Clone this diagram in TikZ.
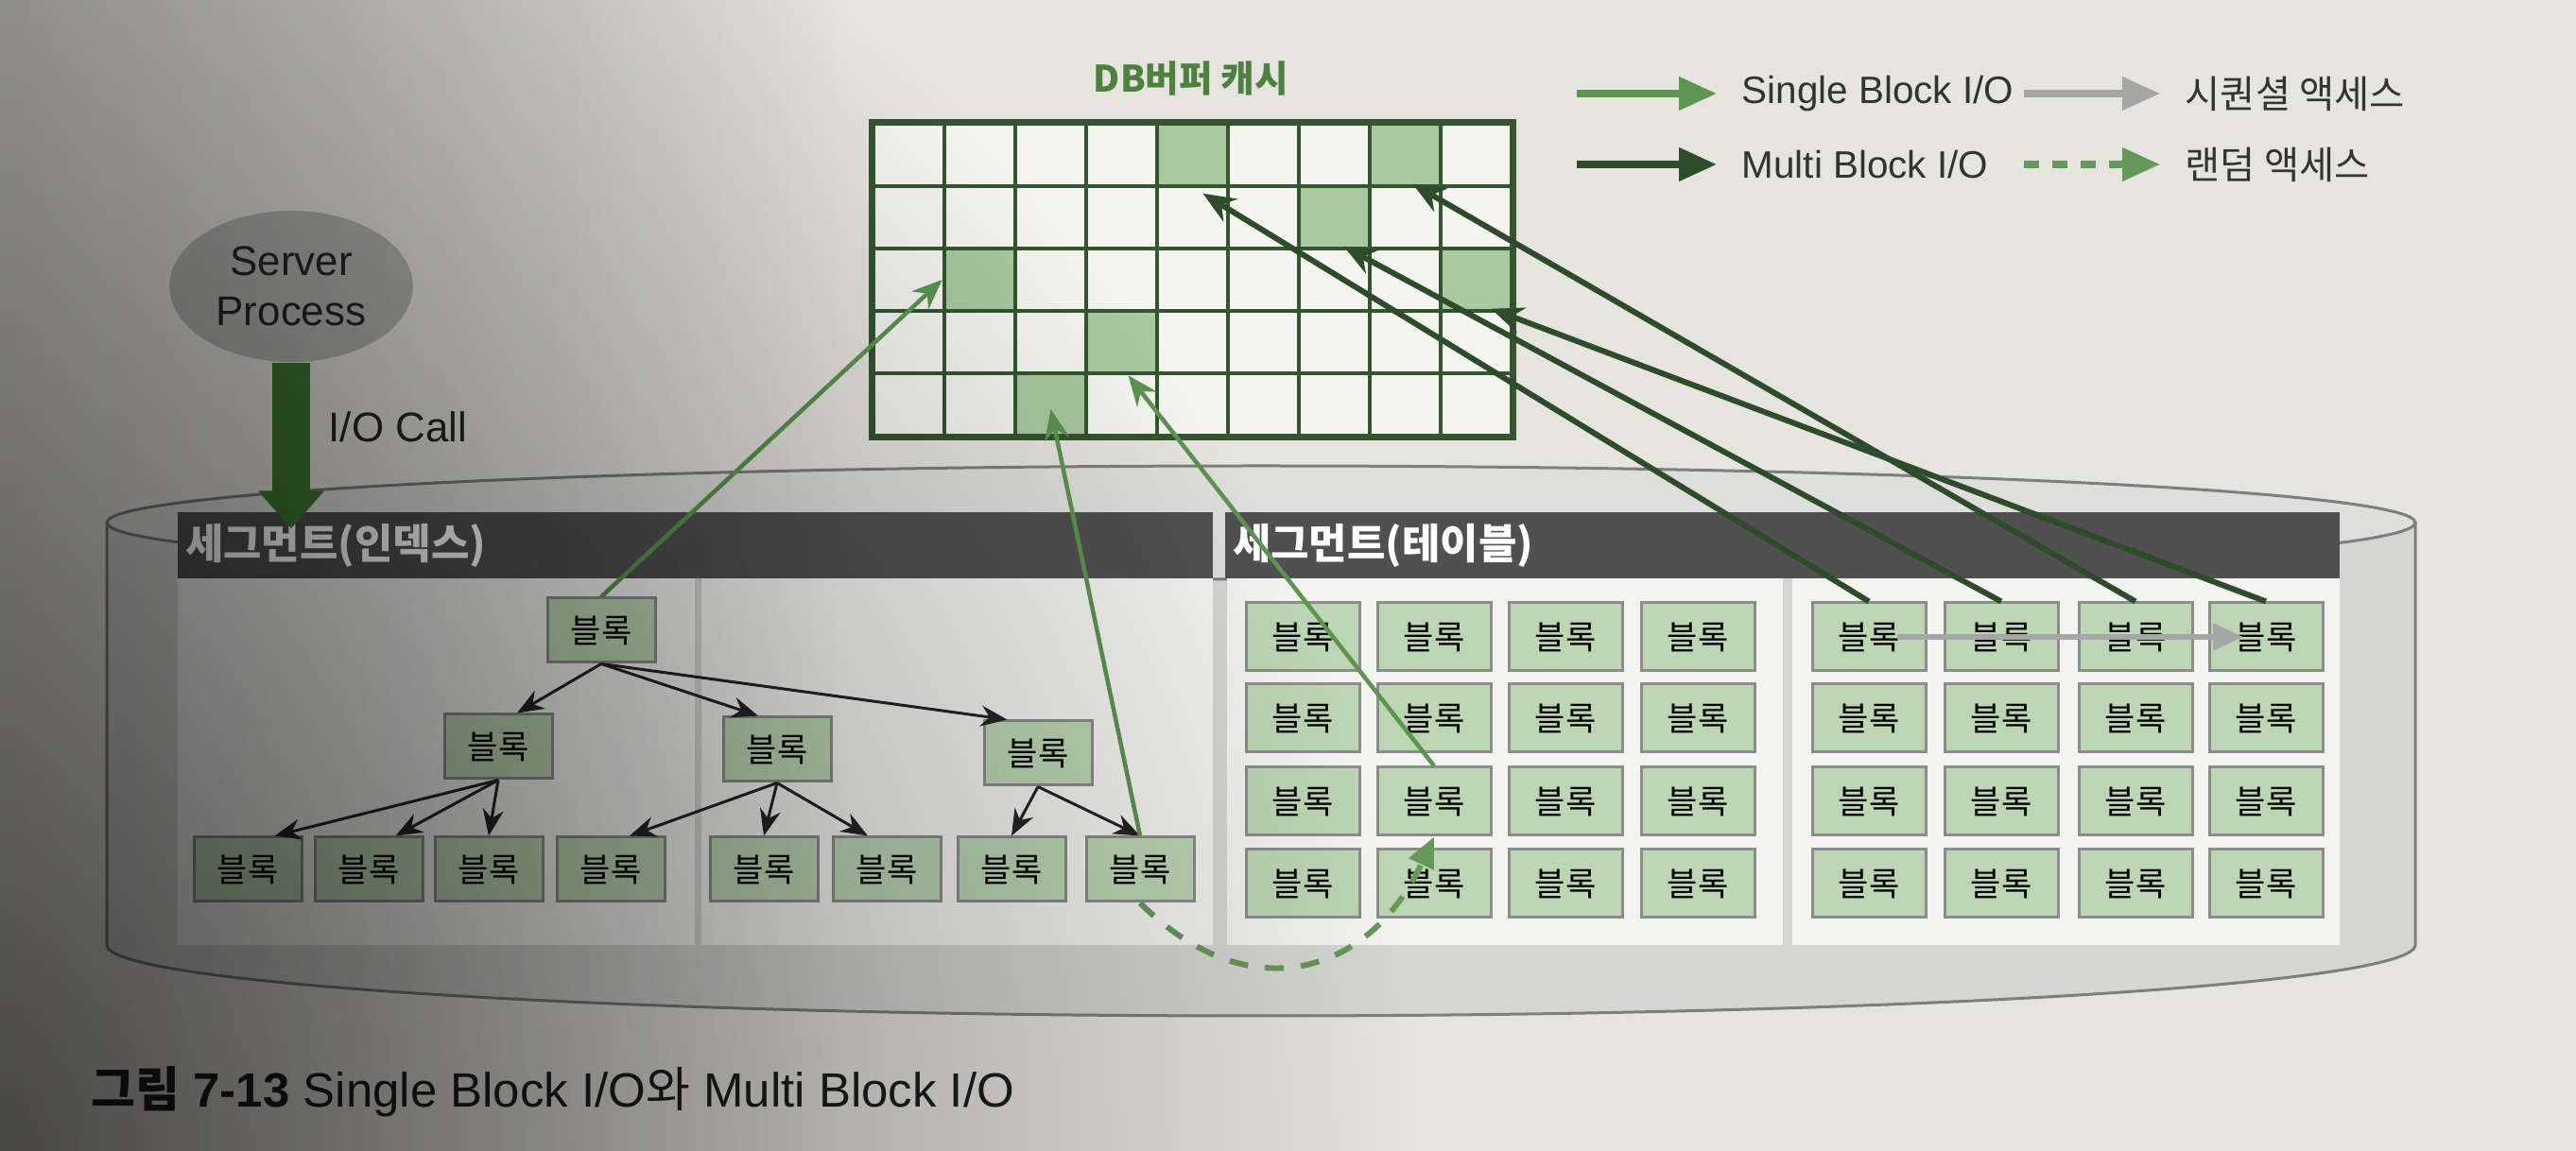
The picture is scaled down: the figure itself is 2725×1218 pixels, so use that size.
\documentclass[tikz,border=0pt]{standalone}
\usepackage{fontspec}
\setmainfont{Liberation Sans}
\newfontfamily\kr{Noto Sans CJK KR}
\usetikzlibrary{arrows.meta,shapes.geometric}
\definecolor{pagegray}{HTML}{E6E4DF}
\definecolor{cylbody}{HTML}{D5D5D3}
\definecolor{cyltop}{HTML}{DEDEDC}
\definecolor{cylline}{HTML}{7E7E7E}
\definecolor{panelwhite}{HTML}{F3F3F1}
\definecolor{bargray}{HTML}{505050}
\definecolor{blkfill}{HTML}{BCD6B3}
\definecolor{blkedge}{HTML}{8C8C8C}
\definecolor{gridline}{HTML}{34552F}
\definecolor{bufgreen}{HTML}{A9C9A0}
\definecolor{cellwhite}{HTML}{F4F4F1}
\definecolor{singlegreen}{HTML}{5C9450}
\definecolor{multigreen}{HTML}{2E4B2A}
\definecolor{seqgray}{HTML}{A6A6A6}
\definecolor{randgreen}{HTML}{66985A}
\definecolor{titlegreen}{HTML}{4E8040}
\definecolor{legtextc}{HTML}{333333}
\definecolor{servergray}{HTML}{B4B4B2}
\definecolor{callgreen}{HTML}{3F7A33}
\definecolor{captionc}{HTML}{1E1E1E}
\begin{document}
\begin{tikzpicture}
[
    x=0.1mm, y=-0.1mm,
    blk/.style={draw=blkedge, fill=blkfill, line width=0.3mm, minimum width=11.4mm, minimum height=6.8mm, inner sep=0pt, font=\kr\fontsize{10}{12}\selectfont},
    tblk/.style={blk, minimum width=12mm, minimum height=7.2mm},
    cell/.style={draw=gridline, fill=cellwhite, line width=0.45mm, minimum width=7.5mm, minimum height=6.6mm, inner sep=0pt},
    panel/.style={fill=panelwhite, minimum height=38.8mm, inner sep=0pt},
    segbar/.style={fill=bargray, text=white, font=\kr\bfseries\fontsize{12.5}{14}\selectfont, minimum height=7mm, inner xsep=0.8mm, align=left},
    treearrow/.style={draw=black!85, line width=0.3mm, -{Stealth[length=2.8mm, width=2.2mm]}},
    single/.style={draw=singlegreen, line width=0.45mm, -{Stealth[length=3.2mm, width=2.6mm]}},
    multi/.style={draw=multigreen, line width=0.6mm, -{Stealth[length=3.4mm, width=2.8mm]}},
    seq/.style={draw=seqgray, line width=0.55mm, -{Triangle[length=3.2mm, width=2.8mm]}},
    random/.style={draw=randgreen, line width=0.6mm, dash pattern=on 2mm off 1.8mm, -{Triangle[length=3.2mm, width=2.8mm]}},
    legarrow/.style={line width=0.75mm, -{Triangle[length=4mm, width=3.4mm]}},
    legtext/.style={anchor=west, text=legtextc, font=\fontsize{11.5}{13}\selectfont, inner sep=0pt},
    legkr/.style={legtext, font=\kr\fontsize{11.5}{13}\selectfont},
]
\useasboundingbox (0,0) rectangle (2725,1218);
\fill[pagegray] (0,0) rectangle (2725,1218);

\fill[cylbody] (113,553) -- (113,1000) arc[start angle=180, end angle=360, x radius=122.1mm, y radius=7.5mm] -- (2555,553) -- cycle;
\filldraw[fill=cyltop, draw=cylline, line width=0.3mm] (1334,553) ellipse[x radius=122.1mm, y radius=6mm];
\draw[cylline, line width=0.3mm] (113,553) -- (113,1000) arc[start angle=180, end angle=360, x radius=122.1mm, y radius=7.5mm] -- (2555,553);

\node[panel, minimum width=54.7mm] (ip1) at (461.5,806) {};
\node[panel, minimum width=54.1mm] (ip2) at (1012.5,806) {};
\node[panel, minimum width=58.8mm] (tp1) at (1592,806) {};
\node[panel, minimum width=57.9mm] (tp2) at (2185.5,806) {};
\node[segbar, text width=107.9mm] (idxbar) at (735.5,577) {세그먼트(인덱스)};
\node[segbar, text width=116.3mm] (tblbar) at (1885.5,577) {세그먼트(테이블)};

\node[blk] (root) at (636,667) {블록};
\node[blk] (mid1) at (527,790) {블록};
\node[blk] (mid2) at (822,793) {블록};
\node[blk] (mid3) at (1098,797) {블록};
\foreach \x [count=\i] in {262,390,517,646,808,938,1070,1206}
    \node[blk] (leaf\i) at (\x,920) {블록};
\foreach \x [count=\i] in {1378,1517,1656,1796,1977,2117,2259,2397}
    \foreach \y [count=\j] in {674,760,848,935}
        \node[tblk] (t-\i-\j) at (\x,\y) {블록};

\draw[treearrow] (root.south) -- ([xshift=2mm]mid1.north);
\draw[treearrow] (root.south) -- ([xshift=-2mm]mid2.north);
\draw[treearrow] (root.south) -- ([xshift=2.6mm]mid3.north west);
\draw[treearrow] (mid1.south) -- ([xshift=-3mm]leaf1.north east);
\draw[treearrow] (mid1.south) -- ([xshift=-3mm]leaf2.north east);
\draw[treearrow] (mid1.south) -- (leaf3.north);
\draw[treearrow] (mid2.south) -- ([xshift=2mm]leaf4.north);
\draw[treearrow] (mid2.south) -- (leaf5.north);
\draw[treearrow] (mid2.south) -- ([xshift=-2mm]leaf6.north);
\draw[treearrow] (mid3.south) -- (leaf7.north);
\draw[treearrow] (mid3.south) -- (leaf8.north);
\draw[seq] ([xshift=3mm]t-5-1.center) -- ([xshift=-2.4mm]t-8-1.center);

\foreach \c in {0,...,8}
    \foreach \r in {0,...,4}
        \node[cell] (c-\c-\r) at ({961.5+75*\c},{164+66*\r}) {};
\foreach \c/\r in {4/0,7/0,6/1,1/2,8/2,3/3,2/4}
    \node[cell, fill=bufgreen] (s-\c-\r) at (c-\c-\r) {};
\draw[gridline, line width=0.6mm] (c-0-0.north west) rectangle (c-8-4.south east);
\node[font=\kr\bfseries\fontsize{11}{13}\selectfont, text=titlegreen] (title) at (1260,83) {DB버퍼 캐시};

\node[legtext] (lgsingle) at (1842,99) {Single Block I/O};
\node[legtext] (lgmulti) at (1842,174) {Multi Block I/O};
\node[legkr] (lgseq) at (2311,99) {시퀀셜 액세스};
\node[legkr] (lgrand) at (2311,174) {랜덤 액세스};
\coordinate (lgs) at (1668,99);
\coordinate (lgm) at (1668,174);
\coordinate (lgq) at (2141,99);
\coordinate (lgr) at (2141,174);
\draw[legarrow, draw=singlegreen] (lgs) -- ([xshift=-2.6mm]lgsingle.west);
\draw[legarrow, draw=multigreen] (lgm) -- ([xshift=-2.6mm]lgmulti.west);
\draw[legarrow, draw=seqgray] (lgq) -- ([xshift=-2.6mm]lgseq.west);
\draw[legarrow, draw=randgreen, dash pattern=on 1.6mm off 1.4mm] (lgr) -- ([xshift=-2.6mm]lgrand.west);

\node[ellipse, fill=servergray, minimum width=25mm, minimum height=16mm, align=center, text=black!85, font=\fontsize{12.5}{15}\selectfont] (server) at (308,303) {Server\\Process};
\draw[draw=callgreen, line width=4mm, -{Triangle[length=4mm, width=6.8mm]}] (server.south) -- ([yshift=-1.8mm]server.south |- idxbar.north);
\node[text=black!85, font=\fontsize{12.5}{15}\selectfont] (iocall) at (421,452) {I/O Call};

\draw[single] (root.north) -- (c-1-2.west);
\draw[single] (leaf8.north) -- ([yshift=-0.5mm]c-2-4.center);
\draw[single] (t-2-3.north) -- ([xshift=0.7mm]c-3-3.south);
\draw[multi] (t-5-1.north) -- ([xshift=1.1mm, yshift=-1mm]c-4-1.north);
\draw[multi] (t-6-1.north) -- ([xshift=1mm]c-6-2.north);
\draw[multi] (t-7-1.north) -- ([xshift=0.8mm]c-7-1.north);
\draw[multi] (t-8-1.north) -- ([xshift=1.6mm]c-8-3.north);
\draw[random] (leaf8.south) to[out=-45, in=-115, looseness=1.3] (t-2-3.south);

\node[anchor=west, inner sep=0pt, text=captionc, font=\fontsize{14.5}{17}\selectfont] (caption) at (96,1155) {{\kr\bfseries 그림} \textbf{7-13} Single Block I/O{\kr 와} Multi Block I/O};

\begin{scope}
\clip (0,0) rectangle (2725,1218);
\shade[blend mode=multiply, left color=black!30, right color=white] (0,0) rectangle (900,1218);
\shade[blend mode=multiply, inner color=black!55, outer color=white] (0,1218) circle[radius=150mm];
\end{scope}
\end{tikzpicture}
\end{document}
